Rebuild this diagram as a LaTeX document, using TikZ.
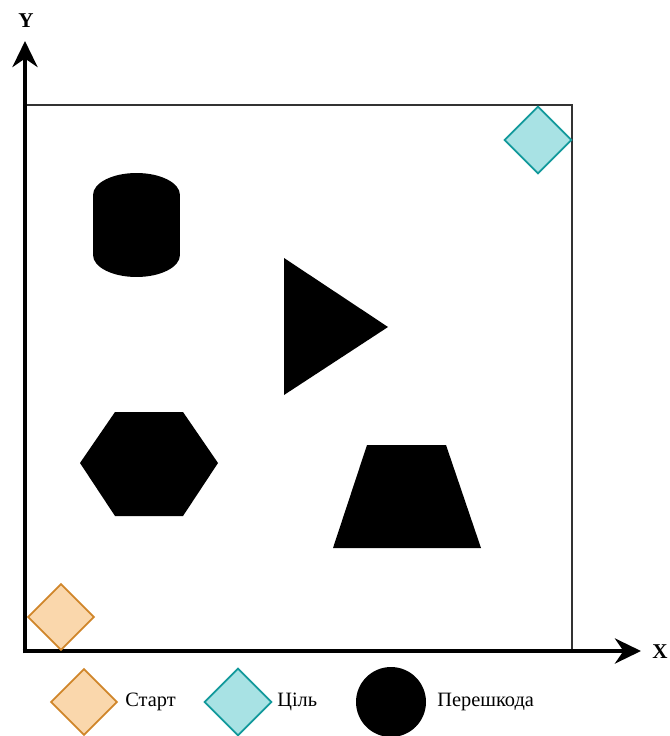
\documentclass[tikz,border=0pt]{standalone}
\usepackage{fontspec}
\setmainfont{Liberation Serif}
\newfontfamily\legendfont{Liberation Serif}
\usepackage{tikz}
\usetikzlibrary{shapes.geometric, arrows.meta, positioning}
\definecolor{StartFill}{HTML}{FAD7AC}
\definecolor{StartLine}{HTML}{D0862A}
\definecolor{GoalFill}{HTML}{A8E2E4}
\definecolor{GoalLine}{HTML}{12999B}
\definecolor{FieldLine}{HTML}{333333}

\begin{document}
\begin{tikzpicture}[x=0.02cm, y=-0.02cm,
  start/.style={diamond, aspect=1, inner sep=0pt, minimum width=1.33cm, minimum height=1.33cm,
    fill=StartFill, draw=StartLine, line width=1pt},
  goal/.style={diamond, aspect=1, inner sep=0pt, minimum width=1.35cm, minimum height=1.35cm,
    fill=GoalFill, draw=GoalLine, line width=1pt},
  obst/.style={fill=black},
  axis/.style={-{Stealth[length=0.52cm, width=0.5cm]}, line width=2.6pt},
  lbl/.style={font=\legendfont\fontsize{11.6}{13}\selectfont, inner sep=0pt},
  axlbl/.style={font=\legendfont\fontsize{12}{13}\selectfont\bfseries, inner sep=0pt}
]
\useasboundingbox (0,0) rectangle (669,736);

% field
\draw[FieldLine, line width=0.8pt] (25,105) rectangle (572,651);

% axes
\coordinate (o)  at (25,651);
\coordinate (xe) at (641,651);
\coordinate (ye) at (25,41);
\draw[axis] ([xshift=-1.3pt]o) -- (xe);
\draw[axis] ([yshift=-1.3pt]o) -- (ye);
\node[axlbl] (xl) at (660,652) {X};
\node[axlbl] (yl) at (26,21)  {Y};

% start and goal
\node[start] (st) at (61,617) {};
\node[goal]  (gl) at (538,140) {};

% obstacles
\fill[obst] (93,195) rectangle (180,255);
\fill[obst] (136.5,195) ellipse [x radius=0.87cm, y radius=0.44cm];
\fill[obst] (136.5,255) ellipse [x radius=0.87cm, y radius=0.44cm];
\fill[obst] (284,258) -- (388,327) -- (284,395) -- cycle;
\fill[obst] (80,463) -- (115,412) -- (183,412) -- (218,463) -- (183,516) -- (115,516) -- cycle;
\fill[obst] (367,445) -- (446,445) -- (481,548) -- (333,548) -- cycle;

% legend
\node[start] (ls) at (84,702) {};
\node[lbl, anchor=west] (lst) at (125,702) {Старт};
\node[goal]  (lg) at (238,702) {};
\node[lbl, anchor=west] (lgt) at (277,702) {Ціль};
\node[circle, obst, minimum size=1.4cm, inner sep=0pt] (lo) at (391,702) {};
\node[lbl, anchor=west] (lot) at (437,702) {Перешкода};
\end{tikzpicture}
\end{document}
